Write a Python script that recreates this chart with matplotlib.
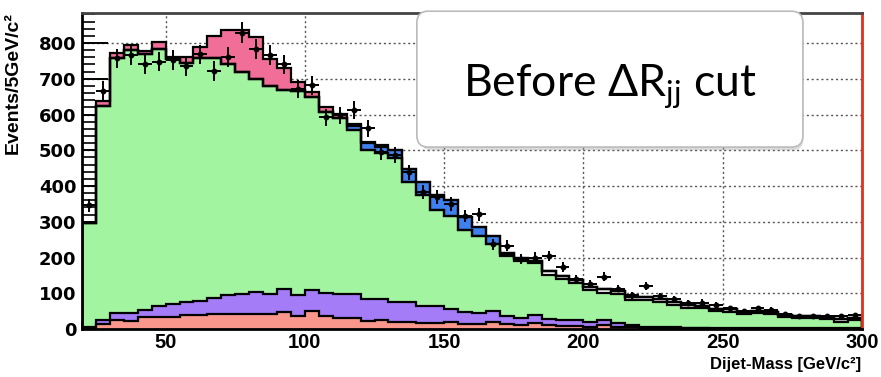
import numpy as np
import matplotlib
matplotlib.use("Agg")
import matplotlib.pyplot as plt
from matplotlib.patches import FancyBboxPatch
from matplotlib.ticker import MultipleLocator

plt.rcParams['mathtext.fontset'] = 'custom'
plt.rcParams['mathtext.rm'] = 'Lato'

# ---- data (bins of 5 GeV from 20 to 300) ----
bin_edges = np.arange(20, 305, 5)

salmon = [2, 14, 26, 22, 34, 34, 34, 38, 38, 43,
          43, 43, 43, 43, 47, 37, 51, 37, 32, 32,
          22, 25, 21, 21, 17, 17, 19, 14, 15, 19,
          13, 10, 16, 10, 8, 8, 6, 10, 6, 5,
          3, 2, 2, 2, 2, 1, 1, 1, 1, 1, 1, 1, 1, 1, 1, 1]
purple = [3, 11, 19, 23, 20, 29, 36, 37, 41, 45,
          52, 56, 61, 56, 64, 59, 59, 63, 66, 65,
          62, 59, 55, 54, 48, 46, 38, 34, 31, 32,
          24, 22, 22, 18, 18, 17, 14, 14, 10, 7,
          3, 3, 3, 2, 2, 2, 2, 2, 2, 2, 1, 1, 1, 1, 1, 1]
green = [291, 599, 713, 736, 716, 721, 686, 669, 680, 671,
         647, 620, 596, 581, 559, 570, 539, 507, 491, 459,
         418, 407, 401, 337, 309, 269, 260, 230, 214, 186,
         168, 159, 148, 124, 114, 103, 88, 76, 81, 68,
         74, 71, 63, 56, 54, 47, 45, 39, 41, 39, 32, 29, 28, 27, 18, 24]
white = [0] * 30 + [4, 4, 3, 11, 9, 9, 10, 12, 9, 10,
                    9, 8, 8, 7, 7, 7, 8, 6, 7, 6, 5, 4, 5, 4, 8, 6]
blue = [0] * 19 + [13, 17, 19, 23, 37, 38, 42, 43, 34, 24, 23, 5, 3, 2] + [0] * 23
pink = [0, 14, 14, 14, 9, 20, 6, 18, 30, 62,
        95, 118, 116, 75, 59, 25, 14, 14, 13, 5,
        4, 4] + [0] * 34
data = [346, 667, 757, 766, 740, 748, 753, 735, 768, 722,
        760, 829, 782, 766, 740, 672, 682, 592, 598, 612,
        561, 494, 486, 439, 383, 369, 350, 316, 321, 237,
        233, 195, 200, 205, 174, 140, 127, 146, 113, 94,
        121, 91, 84, 72, 74, 67, 58, 49, 58, 53, 41, 35, 36, 36, 35, 39]

components = [salmon, purple, green, white, blue, pink]
colors = ['#f9978d', '#a47cf8', '#a3f4a0', '#ffffff', '#3f80ee', '#f06e98']

fig = plt.figure(figsize=(8.81, 3.77), dpi=100)
ax = fig.add_axes([0.0931, 0.1273, 0.8853, 0.8382])

base = np.zeros(len(salmon))
for comp, col in zip(components, colors):
    top = base + np.array(comp, dtype=float)
    ax.stairs(top, bin_edges, baseline=base, fill=True, color=col, lw=0, zorder=2)
    base = top
base = np.zeros(len(salmon))
for comp in components:
    top = base + np.array(comp, dtype=float)
    ax.stairs(top, bin_edges, color='black', lw=1.6, zorder=3)
    base = top

centers = 0.5 * (bin_edges[:-1] + bin_edges[1:])
d = np.array(data, dtype=float)
ax.errorbar(centers, d, yerr=np.sqrt(d), xerr=2.5, fmt='o', ms=3.2,
            color='black', ecolor='black', elinewidth=1.4, capsize=0, zorder=5)

ax.set_xlim(20, 300)
ax.set_ylim(0, 884)

ax.xaxis.set_major_locator(MultipleLocator(50))
ax.xaxis.set_minor_locator(MultipleLocator(10))
ax.yaxis.set_major_locator(MultipleLocator(100))
ax.yaxis.set_minor_locator(MultipleLocator(20))
ax.tick_params(axis='y', which='major', direction='in', length=19, width=1.4,
               labelsize=13, pad=4)
ax.tick_params(axis='y', which='minor', direction='in', length=9, width=1.2)
ax.tick_params(axis='x', which='major', direction='in', length=10, width=1.4,
               labelsize=14.5, pad=3)
ax.tick_params(axis='x', which='minor', direction='in', length=5, width=1.2)
for lab in ax.get_yticklabels():
    lab.set_fontfamily('DejaVu Sans')
    lab.set_fontweight('bold')
for lab in ax.get_xticklabels():
    lab.set_fontfamily('Liberation Sans')
    lab.set_fontweight('bold')

ax.grid(True, which='major', linestyle=(0, (1.5, 2)), color='#555555', lw=1.0)
ax.set_axisbelow(True)
for t in ax.get_xticklines() + ax.get_yticklines():
    t.set_zorder(6)

for s in ['left', 'bottom']:
    ax.spines[s].set_linewidth(2)
    ax.spines[s].set_color('black')
ax.spines['top'].set_linewidth(2)
ax.spines['top'].set_color('#444444')
ax.spines['right'].set_linewidth(2)
ax.spines['right'].set_color('#e0301e')
for s in ax.spines.values():
    s.set_zorder(7)

fig.text(0.0148, 0.967, 'Events/5GeV/c²', rotation=90, ha='center', va='top',
         fontsize=14, fontweight='bold', family='Liberation Sans')
fig.text(0.977, 0.014, 'Dijet-Mass [GeV/c²]', ha='right', va='bottom',
         fontsize=12, fontweight='bold', family='Liberation Sans')

# annotation box
shadow = FancyBboxPatch((141.5, 500), 137.5, 386, boxstyle='round,pad=0,rounding_size=4',
                        facecolor='#999999', edgecolor='none', alpha=0.35, zorder=8,
                        clip_on=False, mutation_aspect=8)
ax.add_patch(shadow)
box = FancyBboxPatch((140.2, 509), 138.6, 380, boxstyle='round,pad=0,rounding_size=4',
                     facecolor='white', edgecolor='#bbbbbb', lw=1.2, zorder=9,
                     clip_on=False, mutation_aspect=8)
ax.add_patch(box)
ax.text(209.5, 680, r'Before ΔR$_{\mathrm{jj}}$ cut', ha='center', va='center',
        fontsize=32, family=['Lato', 'DejaVu Sans'], zorder=10)

fig.savefig('out.png', dpi=100)
